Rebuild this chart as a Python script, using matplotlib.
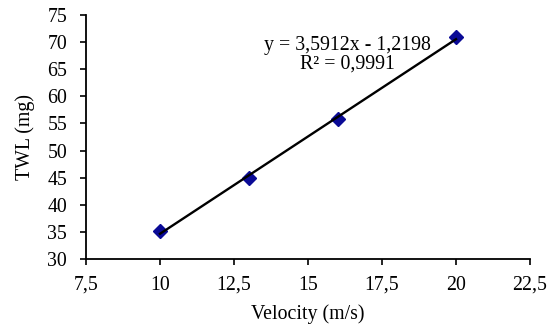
import numpy as np
import matplotlib
matplotlib.use("Agg")
import matplotlib.pyplot as plt

velocity = [10, 13, 16, 20]
twl = [35.1, 45.0, 55.8, 70.9]
x_ticks = [7.5, 10, 12.5, 15, 17.5, 20, 22.5]
y_ticks = [30, 35, 40, 45, 50, 55, 60, 65, 70, 75]

plt.rcParams['font.family'] = ['Liberation Serif', 'DejaVu Serif']
FS = 14.3

fig = plt.figure(figsize=(5.58, 3.29), dpi=100)
ax = fig.add_axes([86/558, 1 - 259/329, (530-86)/558, (259-15)/329])

slope, intercept = np.polyfit(velocity, twl, 1)
xs = np.array([min(velocity), max(velocity)])
ax.plot(velocity, twl, linestyle='none', marker='D', markersize=7,
        color='#0a0a96', markeredgecolor='#0a0a96', zorder=2)
ax.plot(xs, slope * xs + intercept, color='black', linewidth=1.7, zorder=3)

ax.set_xlim(7.5, 22.5)
ax.set_ylim(30, 75)
ax.set_xticks(x_ticks)
ax.set_yticks(y_ticks)
ax.set_xticklabels([f"{v:g}".replace('.', ',') for v in x_ticks])
ax.set_yticklabels([str(v) for v in y_ticks])
for s in ['top', 'right']:
    ax.spines[s].set_visible(False)
for s in ['left', 'bottom']:
    ax.spines[s].set_linewidth(1.3)
ax.tick_params(direction='out', length=4, width=1.2, labelsize=FS)
ax.tick_params(axis='x', pad=8)
ax.tick_params(axis='y', pad=9.5)

ax.set_xlabel('Velocity (m/s)', fontsize=FS, labelpad=7)
ax.set_ylabel('TWL (mg)', fontsize=FS, labelpad=9)

ax.text((347-86)/444, (259-55)/244, 'y = 3,5912x - 1,2198\nR² = 0,9991', transform=ax.transAxes,
        ha='center', va='center', fontsize=FS, multialignment='center',
        linespacing=1.0)

fig.savefig('out.png', dpi=100)
